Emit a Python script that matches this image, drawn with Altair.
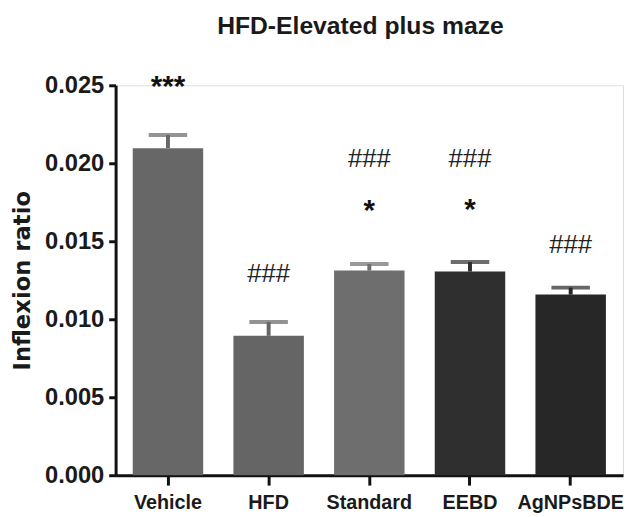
import altair as alt
import pandas as pd

# ---- data ----
groups = ["Vehicle", "HFD", "Standard", "EEBD", "AgNPsBDE"]
means = [0.02097, 0.00894, 0.01312, 0.01306, 0.01158]
errors = [0.00084, 0.00089, 0.00042, 0.00061, 0.00045]
bar_colors = ["#676767", "#656565", "#6e6e6e", "#2f2f2f", "#272727"]

star_groups = ["Vehicle", "Standard", "EEBD"]
star_text = ["***", "*", "*"]
star_y = [0.0250, 0.01709, 0.01715]

hash_groups = ["HFD", "Standard", "EEBD", "AgNPsBDE"]
hash_text = ["###", "###", "###", "###"]
hash_y = [0.0129, 0.02025, 0.02025, 0.01475]

y_ticks = [0.0, 0.005, 0.010, 0.015, 0.020, 0.025]

SANS = "Liberation Sans, Arial, sans-serif"
WIDE = "DejaVu Sans, Verdana, sans-serif"

bars = pd.DataFrame({
    "group": groups,
    "mean": means,
    "upper": [m + e for m, e in zip(means, errors)],
})
stars = pd.DataFrame({"group": star_groups, "label": star_text, "y": star_y})
hashes = pd.DataFrame({"group": hash_groups, "label": hash_text, "y": hash_y})

x_enc = alt.X(
    "group:N",
    sort=groups,
    title=None,
    scale=alt.Scale(paddingInner=0.3, paddingOuter=0.17),
    axis=alt.Axis(
        labelAngle=0,
        labelFont=SANS,
        labelFontSize=20,
        labelFontWeight="bold",
        labelColor="#1a1a1a",
        tickSize=10,
        labelPadding=8,
        domainWidth=3,
        tickWidth=3,
        domainColor="#111111",
        tickColor="#111111",
    ),
)
y_scale = alt.Scale(domain=[0, 0.025], nice=False)
color_enc = alt.Color("group:N", scale=alt.Scale(domain=groups, range=bar_colors), legend=None)

bar_layer = alt.Chart(bars).mark_bar().encode(
    x=x_enc,
    y=alt.Y(
        "mean:Q",
        scale=y_scale,
        title="Inflexion ratio",
        axis=alt.Axis(
            values=y_ticks,
            format=".3f",
            labelFont=SANS,
            labelFontSize=24,
            labelFontWeight="bold",
            labelColor="#1a1a1a",
            tickSize=7,
            labelPadding=5,
            domainWidth=3,
            tickWidth=3,
            domainColor="#111111",
            tickColor="#111111",
            grid=False,
            titleFont=WIDE,
            titleFontSize=23,
            titleFontWeight="bold",
            titleColor="#1a1a1a",
            titlePadding=10,
        ),
    ),
    color=color_enc,
)

stem_layer = alt.Chart(bars).mark_rule(strokeWidth=4).encode(
    x=alt.X("group:N", sort=groups),
    y=alt.Y("mean:Q", scale=y_scale),
    y2="upper:Q",
    color=color_enc,
)

cap_layer = alt.Chart(bars).mark_tick(thickness=4, size=39).encode(
    x=alt.X("group:N", sort=groups),
    y=alt.Y("upper:Q", scale=y_scale),
    color=color_enc,
)

star_layer = alt.Chart(stars).mark_text(
    font=SANS, fontSize=30, fontWeight="bold",
    color="#111111", baseline="middle", dy=2,
).encode(
    x=alt.X("group:N", sort=groups),
    y=alt.Y("y:Q", scale=y_scale),
    text="label:N",
)

hash_layer = alt.Chart(hashes).mark_text(
    font=SANS, fontSize=26, fontWeight="normal",
    color="#222222", baseline="middle", dy=0,
).encode(
    x=alt.X("group:N", sort=groups),
    y=alt.Y("y:Q", scale=y_scale),
    text="label:N",
)

chart = alt.layer(bar_layer, stem_layer, cap_layer, star_layer, hash_layer).properties(
    width=514,
    height=395,
    title=alt.TitleParams(
        "HFD-Elevated plus maze",
        font=SANS,
        fontSize=25,
        fontWeight="bold",
        color="#1a1a1a",
        anchor="middle",
        dx=-9,
        offset=34,
    ),
    autosize=alt.AutoSizeParams(type="none"),
    padding={"left": 109, "top": 75, "right": 2, "bottom": 39},
).configure_view(stroke=None).configure(background="white")

chart.save("out.html", embed_options={"renderer": "svg", "actions": False})
